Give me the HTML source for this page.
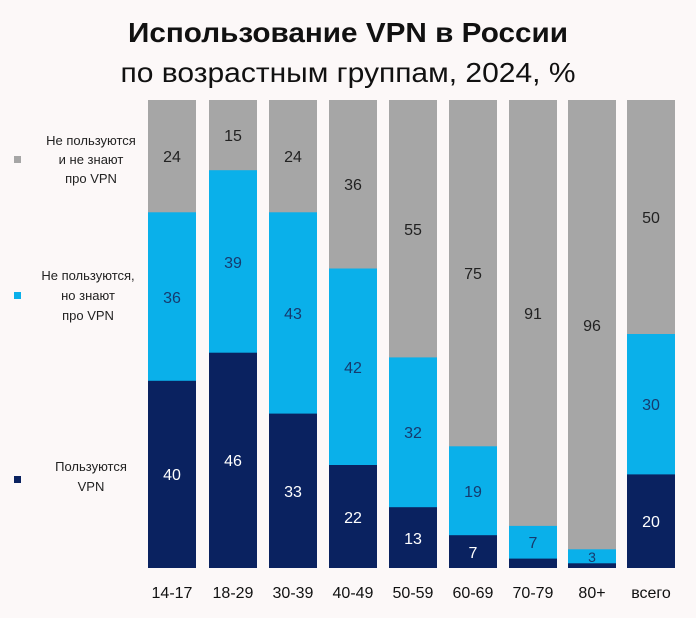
<!DOCTYPE html>
<html><head><meta charset="utf-8"><style>
body{margin:0;background:#fcf8f8;}
svg{display:block;font-family:"Liberation Sans",sans-serif;}
</style></head><body>
<svg width="696" height="618" viewBox="0 0 696 618">
<rect width="696" height="618" fill="#fcf8f8"/>
<text x="348" y="42" text-anchor="middle" font-size="28" font-weight="bold" fill="#111" textLength="440" lengthAdjust="spacingAndGlyphs">Использование VPN в России</text>
<text x="348" y="82" text-anchor="middle" font-size="28" fill="#111" textLength="455" lengthAdjust="spacingAndGlyphs">по возрастным группам, 2024, %</text>
<g font-size="13" fill="#222" text-anchor="middle">
<rect x="14" y="156" width="7" height="7" fill="#a6a6a6"/>
<text x="91" y="145">Не пользуются</text><text x="91" y="164">и не знают</text><text x="91" y="183">про VPN</text>
<rect x="14" y="292" width="7" height="7" fill="#0ab0ea"/>
<text x="88" y="280">Не пользуются,</text><text x="88" y="300">но знают</text><text x="88" y="320">про VPN</text>
<rect x="14" y="476" width="7" height="7" fill="#0a2260"/>
<text x="91" y="471">Пользуются</text><text x="91" y="491">VPN</text>
</g>
<g>
<rect x="148" y="100" width="48" height="113" fill="#a6a6a6"/><rect x="148" y="212.3" width="48" height="169" fill="#0ab0ea"/><rect x="148" y="380.8" width="48" height="187.2" fill="#0a2260"/>
<rect x="209" y="100" width="48" height="71" fill="#a6a6a6"/><rect x="209" y="170.2" width="48" height="183" fill="#0ab0ea"/><rect x="209" y="352.7" width="48" height="215.3" fill="#0a2260"/>
<rect x="269" y="100" width="48" height="113" fill="#a6a6a6"/><rect x="269" y="212.3" width="48" height="202" fill="#0ab0ea"/><rect x="269" y="413.6" width="48" height="154.4" fill="#0a2260"/>
<rect x="329" y="100" width="48" height="169" fill="#a6a6a6"/><rect x="329" y="268.5" width="48" height="197" fill="#0ab0ea"/><rect x="329" y="465" width="48" height="103" fill="#0a2260"/>
<rect x="389" y="100" width="48" height="258" fill="#a6a6a6"/><rect x="389" y="357.4" width="48" height="150.3" fill="#0ab0ea"/><rect x="389" y="507.2" width="48" height="60.8" fill="#0a2260"/>
<rect x="449" y="100" width="48" height="347" fill="#a6a6a6"/><rect x="449" y="446.3" width="48" height="89.5" fill="#0ab0ea"/><rect x="449" y="535.2" width="48" height="32.8" fill="#0a2260"/>
<rect x="509" y="100" width="48" height="426.5" fill="#a6a6a6"/><rect x="509" y="525.9" width="48" height="33.3" fill="#0ab0ea"/><rect x="509" y="558.6" width="48" height="9.4" fill="#0a2260"/>
<rect x="568" y="100" width="48" height="450" fill="#a6a6a6"/><rect x="568" y="549.3" width="48" height="14.5" fill="#0ab0ea"/><rect x="568" y="563.3" width="48" height="4.7" fill="#0a2260"/>
<rect x="627" y="100" width="48" height="234.5" fill="#a6a6a6"/><rect x="627" y="334" width="48" height="141" fill="#0ab0ea"/><rect x="627" y="474.4" width="48" height="93.6" fill="#0a2260"/>
</g>
<g font-size="16" text-anchor="middle">
<g fill="#222">
<text x="172" y="162">24</text><text x="233" y="141">15</text><text x="293" y="162">24</text><text x="353" y="190">36</text><text x="413" y="235">55</text><text x="473" y="279">75</text><text x="533" y="319">91</text><text x="592" y="331">96</text><text x="651" y="223">50</text>
</g>
<g fill="#163a6e">
<text x="172" y="303">36</text><text x="233" y="268">39</text><text x="293" y="319">43</text><text x="353" y="373">42</text><text x="413" y="438">32</text><text x="473" y="497">19</text><text x="533" y="548">7</text><text x="592" y="562" font-size="14">3</text><text x="651" y="410">30</text>
</g>
<g fill="#fff">
<text x="172" y="480">40</text><text x="233" y="466">46</text><text x="293" y="497">33</text><text x="353" y="523">22</text><text x="413" y="544">13</text><text x="473" y="558">7</text><text x="651" y="527">20</text>
</g>
</g>
<g font-size="16" fill="#111" text-anchor="middle">
<text x="172" y="598">14-17</text><text x="233" y="598">18-29</text><text x="293" y="598">30-39</text><text x="353" y="598">40-49</text><text x="413" y="598">50-59</text><text x="473" y="598">60-69</text><text x="533" y="598">70-79</text><text x="592" y="598">80+</text><text x="651" y="598">всего</text>
</g>
</svg>
</body></html>
